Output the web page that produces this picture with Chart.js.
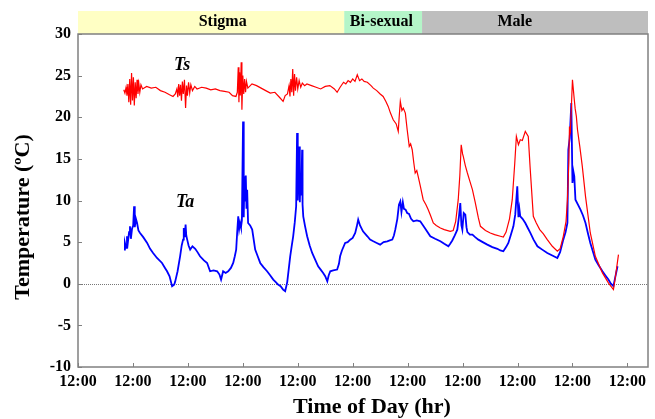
<!DOCTYPE html>
<html>
<head>
<meta charset="utf-8">
<script src="https://cdn.jsdelivr.net/npm/chart.js@4"></script>
<style>
  html, body { margin: 0; padding: 0; background: #fff; }
  canvas { display: block; }
</style>
</head>
<body>
<canvas id="chart" width="655" height="419"></canvas>
<script>
// hours from first 12:00 tick; values in degrees C
const tsHours = [20.0,20.5,21.0,21.4,21.8,22.2,22.6,23.0,23.4,23.8,24.2,24.6,25.0,25.4,25.8,26.2,26.6,27.0,27.5,28.2,
  30,32,34,36,38,40,41.5,42.5,
  43.2,43.6,44.0,44.4,44.8,45.2,45.6,46.0,46.5,47.0,47.4,47.8,48.3,48.8,49.3,50,51,52,
  54,56,58,60,62,64,66,67.5,69.0,69.6,
  70.0,70.3,70.6,70.9,71.3,71.6,72.0,72.4,72.8,73.2,73.6,74.2,
  76,78,80,82,84,86,88,89.6,90.5,91.5,
  92.2,92.6,93.0,93.4,93.8,94.2,94.6,95.0,95.5,96.0,96.6,97.3,98.0,99.0,100,
  102,104,106,108,110,112,113.2,114.5,116,117,118,119,120,121,122,123,124,125,126.4,128,129,130.5,132,133.3,
  134.5,135.5,136.5,137.7,139,139.9,140.3,140.8,141.5,142.1,143,143.8,144.7,145.3,146,146.7,147.3,148,148.6,149.5,
  150.8,152,153,154,155.2,156.5,158.3,160,162.6,163.9,165,166.1,166.8,167.4,168.0,168.3,169.2,170.1,171.2,172.3,
  173.5,174.9,175.8,178,180.1,182,184.5,185.8,187,188.5,189.7,190.8,191.5,192.4,193.2,194.1,195.4,196.7,197.5,198.9,
  200.2,201.7,203.3,205.0,207.2,209.4,210.6,212.0,213.2,213.8,214.4,214.7,215.1,216.0,216.8,217.2,217.7,218.2,219.2,220.3,
  221.7,223.8,226.0,229.1,231.7,233.9,234.8,236.1];
const tsValues = [23.3,22.9,23.6,22.6,24.0,21.8,24.6,21.5,25.3,22.0,24.8,21.4,24.2,22.3,24.5,22.8,24.0,23.0,23.9,23.4,
  23.7,23.5,23.6,23.2,23.0,22.7,22.5,22.8,
  23.4,22.4,24.0,22.6,23.9,22.0,24.3,22.8,24.5,21.1,23.8,22.6,24.2,22.9,23.9,23.2,23.7,23.4,
  23.6,23.5,23.3,23.4,23.2,23.1,23.0,22.6,22.5,23.0,
  26.0,21.8,25.4,22.6,26.6,20.9,25.0,22.8,24.6,23.0,24.3,23.5,
  24.0,23.8,23.5,23.2,22.9,23.0,22.4,21.9,22.6,22.8,
  23.8,22.5,24.6,23.0,25.8,22.6,25.2,23.2,24.8,23.4,24.4,23.6,24.1,23.8,24.0,
  23.8,23.6,23.4,23.7,23.8,23.4,23.0,23.6,24.2,24.0,24.4,24.2,24.6,24.3,25.1,24.4,24.6,24.3,24.2,23.8,23.5,23.2,22.8,22.5,
  21.9,21.3,20.5,19.7,19.2,18.3,20.0,21.9,20.8,21.1,20.5,18.5,16.5,16.8,16.1,14.5,13.3,13.6,12.9,11.8,
  10.1,9.5,8.9,8.2,7.3,7.0,6.7,6.5,6.3,6.4,7.5,10.1,13.0,16.7,15.6,15.3,14.2,13.3,12.3,11.3,
  9.8,7.9,6.9,6.4,6.1,5.9,5.7,5.6,6.2,7.8,10.1,14.5,17.7,16.7,17.3,17.2,18.3,17.7,14.0,8.1,
  7.3,6.5,6.0,5.3,4.5,3.9,4.2,5.7,7.5,10.1,14.5,18.9,18.3,24.5,22.1,21.0,20.1,18.5,16.5,14.1,
  10.5,6.1,3.3,1.3,0.1,-0.7,0.9,3.5];

const taHours = [20.1,20.5,21.0,21.4,21.8,22.3,22.7,23.1,23.6,24.1,24.5,24.8,25.3,25.8,26.4,27.1,28.5,30.2,31.5,32.8,
  34.5,36.7,38.0,38.9,40.0,41.1,42.0,42.4,43.5,44.6,45.3,45.9,46.1,46.3,46.6,47.0,47.3,47.7,48.3,49.0,
  50.0,51.2,52.2,53.3,55.0,56.4,57.7,59.2,60.8,61.8,62.5,63.4,64.5,65.6,66.8,67.8,68.5,69.1,69.5,70.0,
  70.4,70.8,71.2,71.6,72.1,72.4,72.7,73.0,73.3,73.6,73.9,74.3,75.2,76.1,77.4,78.5,79.6,81.0,82.6,84.0,
  85.3,86.4,87.4,88.5,89.6,90.5,91.4,92.7,93.4,94.0,94.7,95.3,95.7,96.0,96.3,96.6,96.9,97.2,97.5,97.9,
  98.1,98.4,99.2,100.1,101.2,102.3,103.6,104.9,106.0,107.1,108.0,108.9,109.5,110.2,111.5,113.2,114.0,114.5,115.3,116.7,
  117.8,118.9,120.0,121.1,121.8,122.4,123.2,124.5,126.4,127.6,129.0,130.5,132.0,133.5,135.1,136.2,137.3,138.0,138.6,139.5,
  140.2,140.8,141.3,141.9,142.4,143.1,143.8,144.6,145.5,146.5,148.0,149.5,151.5,153.9,156.0,158.3,160.0,161.8,162.6,163.5,
  164.6,165.7,166.4,167.0,167.5,167.9,168.5,169.2,169.7,170.1,171.2,172.3,173.5,174.9,176.8,178.8,181.0,183.2,184.5,185.8,
  187.0,188.0,189.0,190.2,191.0,191.9,192.4,192.8,193.2,194.2,195.4,196.5,197.6,199.0,200.7,202.8,205.0,207.2,209.4,210.6,
  212.0,213.0,213.8,214.2,214.8,215.5,216.0,216.4,216.8,217.3,218.4,219.5,220.6,221.7,222.8,223.8,225.0,226.0,227.5,229.1,
  230.4,231.7,232.8,233.9,234.7,235.7];
const taValues = [4.1,4.9,4.3,5.7,5.0,6.2,6.9,5.4,6.6,7.0,9.3,6.8,7.8,7.3,6.4,6.1,5.6,4.9,4.2,3.7,
  3.1,2.5,1.9,1.5,0.9,-0.3,-0.1,0.2,1.5,3.3,4.6,5.3,6.2,6.7,5.6,7.1,5.8,5.3,4.6,4.1,
  4.5,4.2,3.8,3.3,2.8,2.5,1.5,1.6,1.5,1.1,0.5,1.5,1.3,1.5,1.9,2.5,3.3,4.1,6.0,8.1,
  6.6,7.3,6.8,7.6,19.5,8.0,12.9,10.0,13.0,9.0,11.3,7.3,7.0,6.5,4.1,3.3,2.5,2.0,1.5,1.0,
  0.5,0.2,-0.1,-0.3,-0.7,-0.9,0.2,3.3,4.6,5.7,7.4,9.3,18.1,10.0,13.5,16.5,9.8,12.8,10.6,16.1,
  9.5,8.1,6.9,5.7,4.6,3.7,2.9,2.1,1.7,1.3,0.9,0.3,1.0,1.5,1.6,1.7,2.4,3.3,4.0,4.9,
  5.0,5.3,5.5,6.1,6.9,7.7,7.0,6.3,5.7,5.3,5.1,4.9,4.7,5.0,5.1,5.2,5.3,5.8,6.5,7.8,
  9.5,9.9,8.6,9.8,9.0,8.9,8.5,8.4,7.8,7.5,7.6,7.5,6.7,5.7,5.4,5.1,4.8,4.5,4.8,5.2,
  5.8,6.5,8.0,9.7,7.0,6.5,8.5,8.3,6.8,6.2,5.9,5.9,5.6,5.3,5.0,4.7,4.4,4.2,4.0,3.9,
  4.4,4.9,5.8,6.9,8.3,11.7,8.0,9.0,8.1,7.8,7.3,6.7,6.1,5.3,4.5,4.1,3.7,3.4,3.1,3.8,
  5.3,6.2,7.3,16.1,17.5,21.7,12.1,13.5,12.9,10.1,9.5,8.9,8.2,7.3,6.0,4.9,3.8,2.9,2.2,1.5,
  1.0,0.5,0.0,-0.3,0.8,2.1];

const xTicks = [0, 24, 48, 72, 96, 120, 144, 168, 192, 216, 240];
const tickLabel = "12:00";
const phaseNames = ["Stigma", "Bi-sexual", "Male"];
const phaseStart = [0, 116.3, 150.3];
const phaseEnd = [116.3, 150.3, 249];
const phaseLabelAt = [63.2, 132.5, 190.8];
const phaseColors = ["#FFFFC4", "#B4F5C8", "#BEBEBE"];

const SERIF = '"Liberation Serif", "Times New Roman", serif';

const decor = {
  id: "decor",
  beforeDatasetsDraw(chart) {
    const { ctx, chartArea: a, scales: { x, y } } = chart;
    ctx.save();
    // phase bands above plot
    phaseNames.forEach((name, i) => {
      const x0 = x.getPixelForValue(phaseStart[i]);
      const x1 = x.getPixelForValue(phaseEnd[i]);
      ctx.fillStyle = phaseColors[i];
      ctx.fillRect(x0, 11, x1 - x0, a.top - 11);
      ctx.fillStyle = "#000";
      ctx.font = "bold 16px " + SERIF;
      ctx.textAlign = "center";
      ctx.textBaseline = "middle";
      ctx.fillText(name, x.getPixelForValue(phaseLabelAt[i]), 22);
    });
    // zero line
    ctx.strokeStyle = "#777";
    ctx.lineWidth = 1;
    ctx.setLineDash([1, 1]);
    const y0 = Math.round(y.getPixelForValue(0)) + 0.5;
    ctx.beginPath();
    ctx.moveTo(a.left, y0);
    ctx.lineTo(a.right, y0);
    ctx.stroke();
    ctx.restore();
  },
  afterDraw(chart) {
    const { ctx, chartArea: a, scales: { x, y } } = chart;
    ctx.save();
    ctx.strokeStyle = "#808080";
    ctx.lineWidth = 1.5;
    ctx.strokeRect(a.left, a.top, a.right - a.left, a.bottom - a.top);
    // inward ticks
    ctx.lineWidth = 1;
    ctx.beginPath();
    xTicks.forEach((v) => {
      const px = Math.round(x.getPixelForValue(v)) + 0.5;
      ctx.moveTo(px, a.bottom);
      ctx.lineTo(px, a.bottom - 4);
    });
    y.ticks.forEach((t) => {
      const py = Math.round(y.getPixelForValue(t.value)) + 0.5;
      ctx.moveTo(a.left, py);
      ctx.lineTo(a.left + 4, py);
    });
    ctx.stroke();
    // series labels
    ctx.fillStyle = "#000";
    ctx.font = "italic bold 18px " + SERIF;
    ctx.textAlign = "center";
    ctx.textBaseline = "middle";
    ctx.fillText("Ts", x.getPixelForValue(45.5), y.getPixelForValue(26.2));
    ctx.fillText("Ta", x.getPixelForValue(46.8), y.getPixelForValue(9.8));
    // axis titles
    ctx.font = "bold 22px " + SERIF;
    ctx.fillText("Time of Day (hr)", 372, 407);
    ctx.translate(23, 217);
    ctx.rotate(-Math.PI / 2);
    ctx.font = "bold 22px " + SERIF;
    ctx.fillText("Temperature (ºC)", 0, 0);
    ctx.restore();
  },
};

const tickFont = { family: SERIF, size: 16, weight: "bold" };

new Chart(document.getElementById("chart"), {
  type: "line",
  data: {
    datasets: [
      {
        label: "Ts",
        data: tsHours.map((h, i) => ({ x: h, y: tsValues[i] })),
        borderColor: "#FF0000",
        borderWidth: 1.2,
        pointRadius: 0,
        tension: 0,
      },
      {
        label: "Ta",
        data: taHours.map((h, i) => ({ x: h, y: taValues[i] })),
        borderColor: "#0000FF",
        borderWidth: 1.8,
        pointRadius: 0,
        tension: 0,
      },
    ],
  },
  options: {
    responsive: false,
    animation: false,
    devicePixelRatio: 1,
    layout: { padding: { top: 34, right: 7, left: 0, bottom: 0 } },
    plugins: { legend: { display: false }, tooltip: { enabled: false } },
    scales: {
      x: {
        type: "linear",
        min: 0,
        max: 249,
        afterFit: (s) => { s.height = 52; },
        afterBuildTicks: (s) => { s.ticks = xTicks.map((v) => ({ value: v })); },
        grid: { display: false, drawTicks: false },
        border: { display: false },
        ticks: {
          color: "#000",
          font: tickFont,
          padding: 5,
          maxRotation: 0,
          autoSkip: false,
          callback: () => tickLabel,
        },
      },
      y: {
        min: -10,
        max: 30,
        afterFit: (s) => { s.width = 78; },
        grid: { display: false, drawTicks: false },
        border: { display: false },
        ticks: { color: "#000", font: tickFont, padding: 7, stepSize: 5 },
      },
    },
  },
  plugins: [decor],
});
</script>
</body>
</html>
